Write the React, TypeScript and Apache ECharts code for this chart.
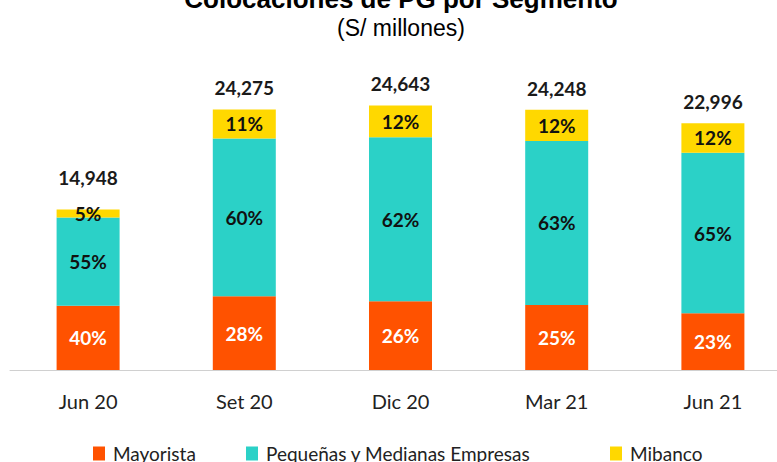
import React, { useEffect, useRef } from "react";
import * as echarts from "echarts";

const categories = ["Jun 20", "Set 20", "Dic 20", "Mar 21", "Jun 21"];
const totals = [14948, 24275, 24643, 24248, 22996];
const pctMayorista = [40, 28, 26, 25, 23];
const pctPyme = [55, 60, 62, 63, 65];
const pctMibanco = [5, 11, 12, 12, 12];
const seriesNames = ["Mayorista", "Pequeñas y Medianas Empresas", "Mibanco"];
const colors = ["#FF5200", "#2BD1C7", "#FFD800"];

const FONT = "Lato";

export default function App() {
  const ref = useRef<HTMLDivElement>(null);
  useEffect(() => {
    document.body.style.margin = "0";
    document.body.style.overflow = "hidden";
    if (!ref.current) return;
    const chart = echarts.init(ref.current, undefined, { renderer: "svg" });
    const pcts = [pctMayorista, pctPyme, pctMibanco];
    const sumP = (i: number) => pctMayorista[i] + pctPyme[i] + pctMibanco[i];
    const barSeries = pcts.map((p, s) => ({
      name: seriesNames[s],
      type: "bar",
      stack: "a",
      barWidth: 63,
      itemStyle: { color: colors[s] },
      label: {
        show: true,
        position: "inside",
        formatter: (d: any) => p[d.dataIndex] + "%",
        color: s === 0 ? "#ffffff" : "#111111",
        fontFamily: FONT,
        fontWeight: "bold",
        fontSize: 19,
      },
      data: p.map((v, i) => (totals[i] * v) / sumP(i)),
    }));
    const legendLefts = [93, 246, 610];
    chart.setOption({
      animation: false,
      graphic: [
        {
          type: "text",
          x: 401,
          y: 12,
          style: {
            text: "Colocaciones de PG por Segmento",
            font: "bold 26px 'Liberation Sans', Arial",
            fill: "#000",
            align: "center",
            verticalAlign: "bottom",
          },
        },
        {
          type: "text",
          x: 401,
          y: 28,
          style: {
            text: "(S/ millones)",
            font: "23px 'Liberation Sans', Arial",
            fill: "#000",
            align: "center",
            verticalAlign: "middle",
          },
        },
      ],
      legend: seriesNames.map((n, i) => ({
        top: 444,
        left: legendLefts[i],
        padding: 0,
        itemWidth: 12,
        itemHeight: 14,
        itemGap: 6,
        icon: "rect",
        data: [n],
        textStyle: { fontFamily: FONT, fontSize: 19, color: "#222", padding: [0, 0, 6, 3] },
      })),
      grid: { left: 10, width: 781, top: 48, bottom: 92, containLabel: false },
      xAxis: {
        type: "category",
        data: categories,
        axisLine: { lineStyle: { color: "#d0d0d0", width: 1 } },
        axisTick: { show: false },
        axisLabel: { margin: 21, fontFamily: FONT, fontSize: 20, color: "#222" },
      },
      yAxis: { type: "value", min: 0, max: 30000, show: false, splitLine: { show: false } },
      series: [
        ...barSeries,
        {
          name: "total",
          type: "bar",
          stack: "a",
          barWidth: 63,
          itemStyle: { color: "transparent" },
          label: {
            show: true,
            position: "top",
            distance: 12,
            formatter: (d: any) => totals[d.dataIndex].toLocaleString("en-US"),
            color: "#1a1a1a",
            fontFamily: FONT,
            fontWeight: "bold",
            fontSize: 19,
          },
          data: totals.map((_, i) => (i === 0 ? { value: 0, label: { distance: 23 } } : 0)),
        },
      ],
    });
    return () => chart.dispose();
  }, []);
  return <div ref={ref} style={{ width: 800, height: 462 }} />;
}
